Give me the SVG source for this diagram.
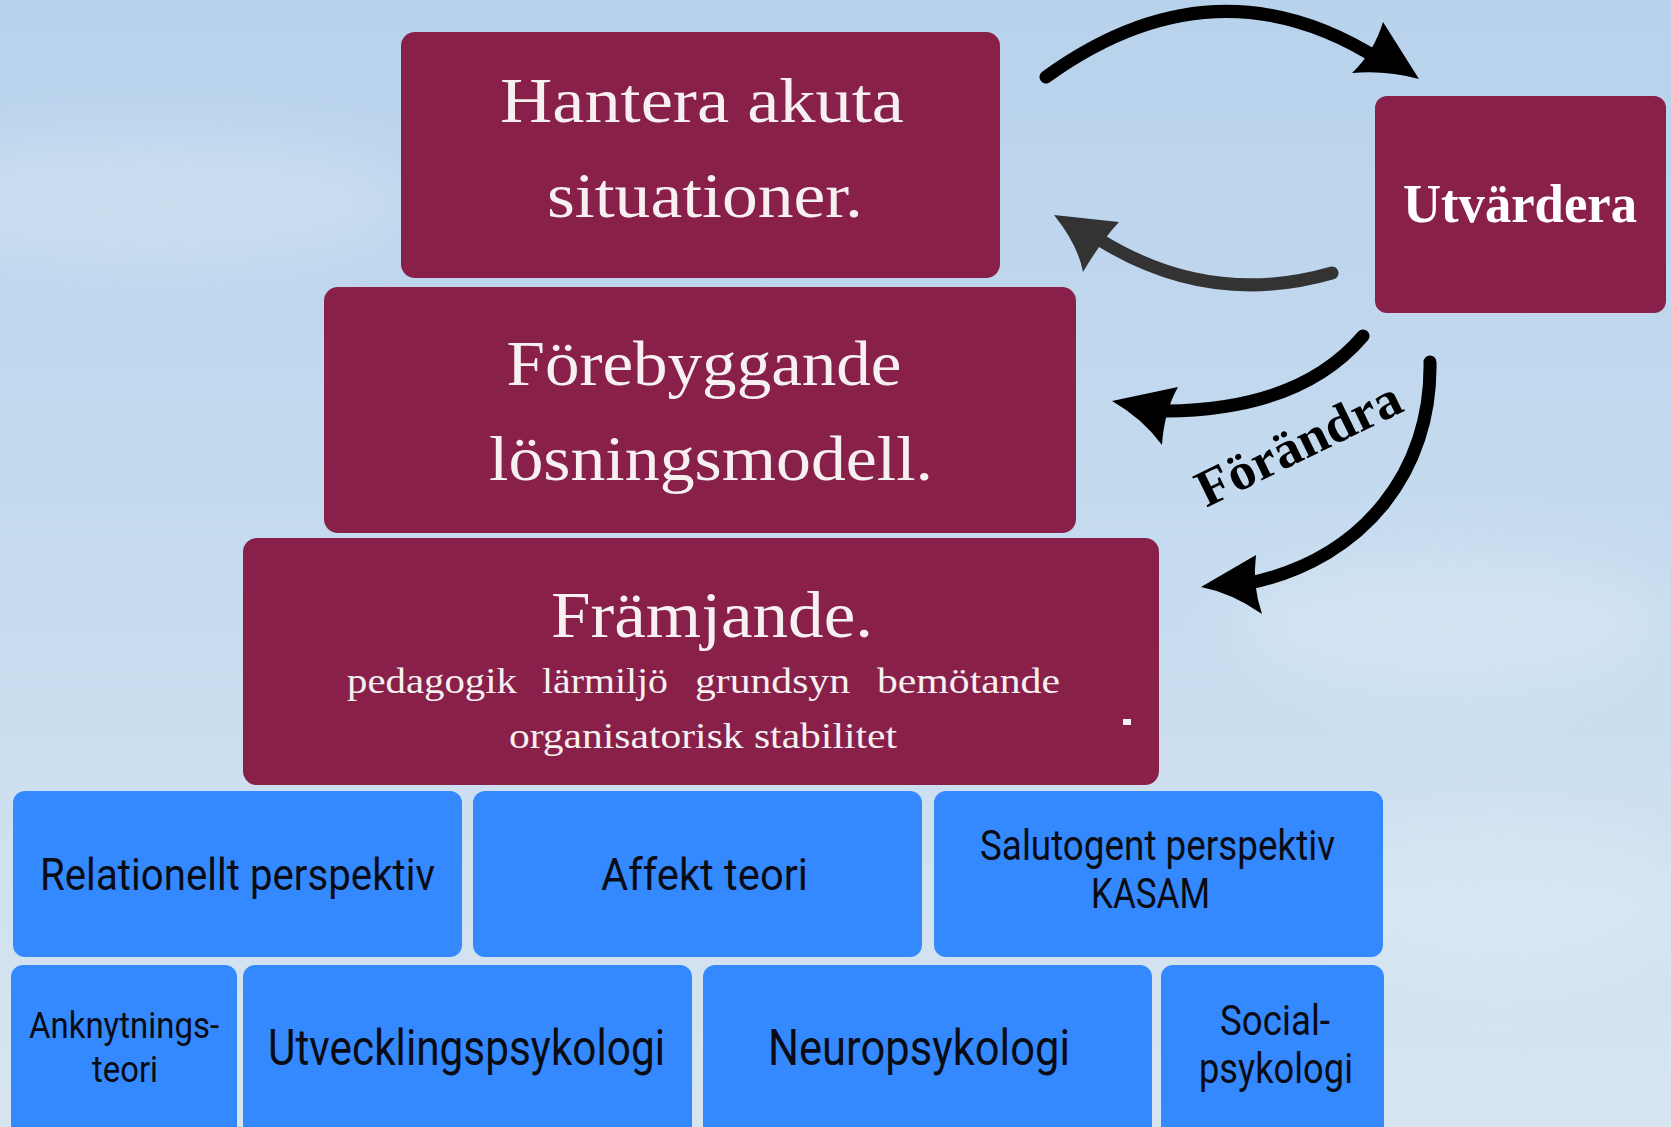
<svg xmlns="http://www.w3.org/2000/svg" width="1671" height="1127" viewBox="0 0 1671 1127">
<defs>
<linearGradient id="sky" x1="0" y1="0" x2="0" y2="1">
<stop offset="0" stop-color="#b8d2ec"/>
<stop offset="0.5" stop-color="#c6dbef"/>
<stop offset="1" stop-color="#d7e5f1"/>
</linearGradient>
<filter id="blur" x="-50%" y="-50%" width="200%" height="200%"><feGaussianBlur stdDeviation="30"/></filter>
<style>
.m{fill:#88204a}
.b{fill:#3489fe}
.st{font-family:"Liberation Serif","DejaVu Serif",serif;fill:#f6f0f0;text-anchor:middle}
.sb{font-family:"Liberation Serif","DejaVu Serif",serif;font-weight:bold;text-anchor:middle}
.ss{font-family:"Roboto","Liberation Sans",sans-serif;fill:#0b0b14;text-anchor:middle}
.shaft{fill:none;stroke:#000;stroke-width:13;stroke-linecap:round}
.head{fill:#000}
</style>
</defs>
<rect width="1671" height="1127" fill="url(#sky)"/>
<g filter="url(#blur)" opacity="0.35">
<ellipse cx="150" cy="200" rx="260" ry="60" fill="#e6f0f8"/>
<ellipse cx="1450" cy="620" rx="220" ry="70" fill="#e6f0f8"/>
<ellipse cx="1500" cy="900" rx="200" ry="80" fill="#e6f0f8"/>
</g>

<g id="node-hantera">
<rect class="m" x="401" y="32" width="599" height="246" rx="14"/>
<text class="st" x="702" y="122" font-size="64" textLength="404" lengthAdjust="spacingAndGlyphs">Hantera akuta</text>
<text class="st" x="705" y="217" font-size="64" textLength="316" lengthAdjust="spacingAndGlyphs">situationer.</text>
</g>
<g id="node-forebyggande">
<rect class="m" x="324" y="287" width="752" height="246" rx="14"/>
<text class="st" x="704" y="385" font-size="64" textLength="395" lengthAdjust="spacingAndGlyphs">Förebyggande</text>
<text class="st" x="711" y="480" font-size="64" textLength="444" lengthAdjust="spacingAndGlyphs">lösningsmodell.</text>
</g>
<g id="node-framjande">
<rect class="m" x="243" y="538" width="916" height="247" rx="14"/>
<text class="st" x="712" y="637" font-size="66" textLength="322" lengthAdjust="spacingAndGlyphs">Främjande.</text>
<text class="st" y="693" font-size="35" style="text-anchor:start"><tspan x="347" textLength="170" lengthAdjust="spacingAndGlyphs">pedagogik</tspan><tspan x="542" textLength="126" lengthAdjust="spacingAndGlyphs">lärmiljö</tspan><tspan x="695" textLength="155" lengthAdjust="spacingAndGlyphs">grundsyn</tspan><tspan x="877" textLength="183" lengthAdjust="spacingAndGlyphs">bemötande</tspan></text>
<text class="st" x="703" y="748" font-size="35" textLength="388" lengthAdjust="spacingAndGlyphs">organisatorisk stabilitet</text>
<rect x="1123" y="719" width="8" height="6" fill="#f6f0f0"/>
</g>
<g id="node-utvardera">
<rect class="m" x="1375" y="96" width="291" height="217" rx="12"/>
<text class="sb" x="1520" y="222" font-size="54" fill="#ffffff" textLength="234" lengthAdjust="spacingAndGlyphs">Utvärdera</text>
</g>

<g id="node-relationellt">
<rect class="b" x="13" y="791" width="449" height="166" rx="12"/>
<text class="ss" x="237.5" y="890" font-size="45" textLength="395" lengthAdjust="spacingAndGlyphs">Relationellt perspektiv</text>
</g>
<g id="node-affekt">
<rect class="b" x="473" y="791" width="449" height="166" rx="12"/>
<text class="ss" x="704.5" y="890" font-size="45" textLength="207" lengthAdjust="spacingAndGlyphs">Affekt teori</text>
</g>
<g id="node-salutogent">
<rect class="b" x="934" y="791" width="449" height="166" rx="12"/>
<text class="ss" x="1157.5" y="860" font-size="42" textLength="355" lengthAdjust="spacingAndGlyphs">Salutogent perspektiv</text>
<text class="ss" x="1150.5" y="908" font-size="42" textLength="119" lengthAdjust="spacingAndGlyphs">KASAM</text>
</g>
<g id="node-anknytning">
<rect class="b" x="11" y="965" width="226" height="180" rx="12"/>
<text class="ss" x="124" y="1038" font-size="37" textLength="190" lengthAdjust="spacingAndGlyphs">Anknytnings-</text>
<text class="ss" x="125" y="1082" font-size="37" textLength="66" lengthAdjust="spacingAndGlyphs">teori</text>
</g>
<g id="node-utveckling">
<rect class="b" x="243" y="965" width="449" height="180" rx="12"/>
<text class="ss" x="466.5" y="1065" font-size="50" textLength="397" lengthAdjust="spacingAndGlyphs">Utvecklingspsykologi</text>
</g>
<g id="node-neuro">
<rect class="b" x="703" y="965" width="449" height="180" rx="12"/>
<text class="ss" x="919" y="1065" font-size="50" textLength="302" lengthAdjust="spacingAndGlyphs">Neuropsykologi</text>
</g>
<g id="node-social">
<rect class="b" x="1161" y="965" width="223" height="180" rx="12"/>
<text class="ss" x="1275" y="1035" font-size="43" textLength="110" lengthAdjust="spacingAndGlyphs">Social-</text>
<text class="ss" x="1276" y="1083" font-size="43" textLength="154" lengthAdjust="spacingAndGlyphs">psykologi</text>
</g>

<g id="connectors">
<path class="shaft" stroke-width="12" d="M1046,77 Q1215,-45 1380,60"/>
<path class="head" d="M1383,22 L1419,79 Q1386,70 1352,73 Q1374,52 1383,22 Z"/>
<path class="shaft" style="stroke:#333" stroke-width="16" d="M1332,273 Q1210,308 1100,240"/>
<path class="head" style="fill:#333" d="M1054,215 L1119,222 Q1102,240 1083,272 Q1078,245 1054,215 Z"/>
<path class="shaft" d="M1363,336 Q1300,410 1166,411"/>
<path class="head" d="M1112,401 L1178,387 Q1164,412 1162,445 Q1142,418 1112,401 Z"/>
<path class="shaft" d="M1430,362 C1432,470 1365,558 1250,583"/>
<path class="head" d="M1201,587 L1256,555 Q1252,585 1262,614 Q1232,593 1201,587 Z"/>
<text class="sb" x="1306" y="459" font-size="52" fill="#000" textLength="222" lengthAdjust="spacingAndGlyphs" transform="rotate(-26 1306 459)">Förändra</text>
</g>
</svg>
